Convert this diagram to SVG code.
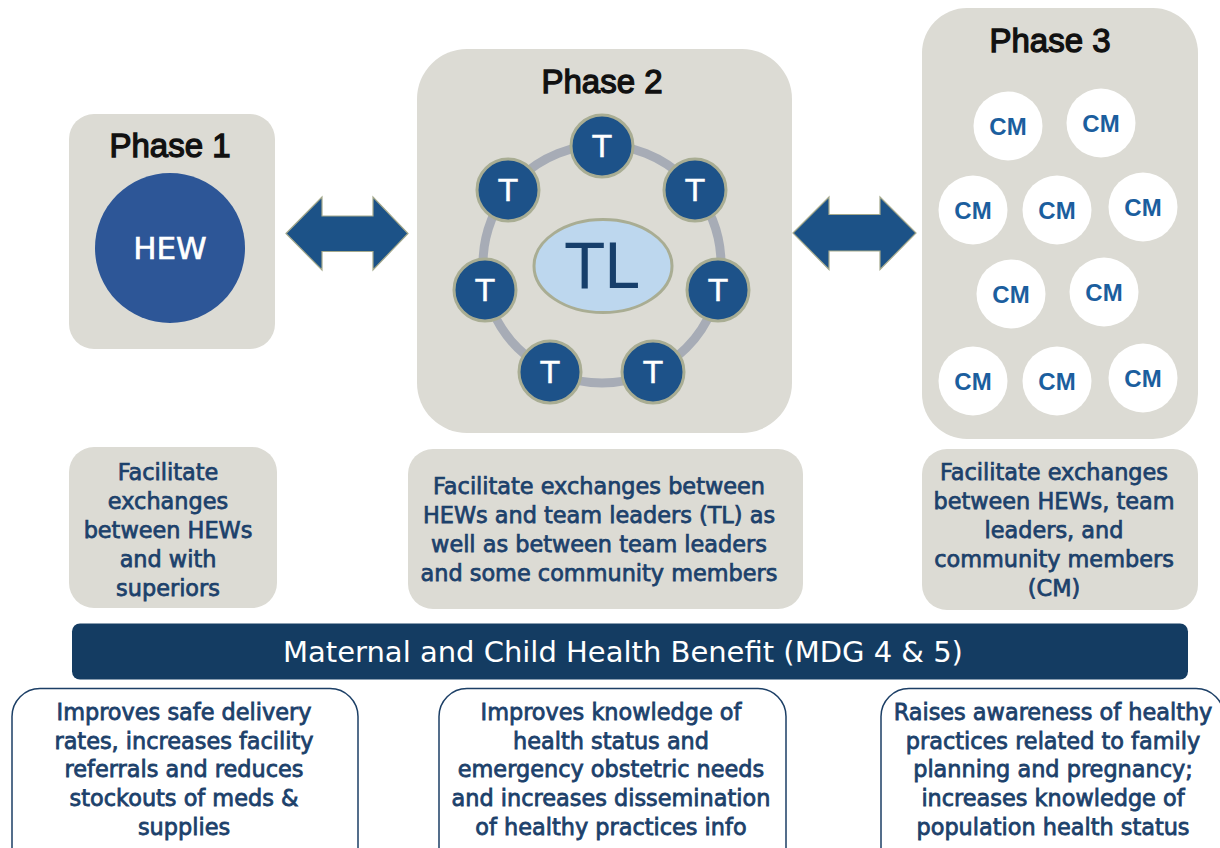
<svg xmlns="http://www.w3.org/2000/svg" width="1220" height="848" viewBox="0 0 1220 848">
<style>
.panel{fill:#DCDBD4}
.title{font-family:"Liberation Sans",Arial,sans-serif;font-size:33px;fill:#111;stroke:#111;stroke-width:1.3;text-anchor:middle}
.desc{font-family:"DejaVu Sans",Verdana,sans-serif;font-size:22.4px;fill:#1C416B;stroke:#1C416B;stroke-width:0.75;text-anchor:middle}
.bot{font-family:"DejaVu Sans",Verdana,sans-serif;font-size:22.4px;fill:#1C416B;stroke:#1C416B;stroke-width:0.8;text-anchor:middle}
.tnode{fill:#1D5289;stroke:#A9AD93;stroke-width:3}
.tlab{font-family:"DejaVu Sans",Verdana,sans-serif;font-size:31px;fill:#fff;stroke:#fff;stroke-width:0.4;text-anchor:middle}
.cm{fill:#fff}
.cmlab{font-family:"Liberation Sans",Arial,sans-serif;font-weight:bold;font-size:24px;fill:#1B5E9E;text-anchor:middle}
.arrow{fill:#1C5287;stroke:#A5A98C;stroke-width:1.2}
.outcome{fill:#fff;stroke:#1C3F66;stroke-width:1.5}
</style>

<g id="phase1">
<rect class="panel" x="69" y="114" width="206" height="235" rx="25"/>
<text class="title" x="170" y="157">Phase 1</text>
<circle cx="170" cy="248" r="75" fill="#2D5697"/>
<text x="170" y="259" font-family="DejaVu Sans, Verdana, sans-serif" font-size="31" fill="#fff" stroke="#fff" stroke-width="0.6" text-anchor="middle">HEW</text>
</g>

<g id="phase2">
<rect class="panel" x="417" y="49" width="375" height="384" rx="50"/>
<text class="title" x="602" y="93">Phase 2</text>
<circle cx="602" cy="264" r="119" fill="none" stroke="#A7ACB6" stroke-width="9"/>
<ellipse cx="603" cy="266" rx="69" ry="46.5" fill="#BDD7EE" stroke="#A9AD93" stroke-width="3"/>
<text x="602" y="288" font-family="DejaVu Sans, Verdana, sans-serif" font-size="62" fill="#173F6B" text-anchor="middle">TL</text>
<g id="t1"><circle class="tnode" cx="602" cy="146" r="31"/><text class="tlab" x="602" y="157">T</text></g>
<g id="t2"><circle class="tnode" cx="508" cy="190" r="31"/><text class="tlab" x="508" y="201">T</text></g>
<g id="t3"><circle class="tnode" cx="695" cy="190" r="31"/><text class="tlab" x="695" y="201">T</text></g>
<g id="t4"><circle class="tnode" cx="485" cy="290" r="31"/><text class="tlab" x="485" y="301">T</text></g>
<g id="t5"><circle class="tnode" cx="718" cy="290" r="31"/><text class="tlab" x="718" y="301">T</text></g>
<g id="t6"><circle class="tnode" cx="550" cy="372" r="31"/><text class="tlab" x="550" y="383">T</text></g>
<g id="t7"><circle class="tnode" cx="653" cy="372" r="31"/><text class="tlab" x="653" y="383">T</text></g>
</g>

<g id="phase3">
<rect class="panel" x="922" y="8" width="276" height="431" rx="45"/>
<text class="title" x="1050" y="52">Phase 3</text>
<g id="cm1"><circle class="cm" cx="1008" cy="126" r="34.5"/><text class="cmlab" x="1008" y="135">CM</text></g>
<g id="cm2"><circle class="cm" cx="1101" cy="123" r="34.5"/><text class="cmlab" x="1101" y="132">CM</text></g>
<g id="cm3"><circle class="cm" cx="973" cy="210" r="34.5"/><text class="cmlab" x="973" y="219">CM</text></g>
<g id="cm4"><circle class="cm" cx="1057" cy="210" r="34.5"/><text class="cmlab" x="1057" y="219">CM</text></g>
<g id="cm5"><circle class="cm" cx="1143" cy="207" r="34.5"/><text class="cmlab" x="1143" y="216">CM</text></g>
<g id="cm6"><circle class="cm" cx="1011" cy="294" r="34.5"/><text class="cmlab" x="1011" y="303">CM</text></g>
<g id="cm7"><circle class="cm" cx="1104" cy="292" r="34.5"/><text class="cmlab" x="1104" y="301">CM</text></g>
<g id="cm8"><circle class="cm" cx="973" cy="381" r="34.5"/><text class="cmlab" x="973" y="390">CM</text></g>
<g id="cm9"><circle class="cm" cx="1057" cy="381" r="34.5"/><text class="cmlab" x="1057" y="390">CM</text></g>
<g id="cm10"><circle class="cm" cx="1143" cy="378" r="34.5"/><text class="cmlab" x="1143" y="387">CM</text></g>
</g>

<g id="connectors">
<polygon class="arrow" points="286,233.5 322,197 322,216 373,216 373,197 408,233.5 373,270 373,251.5 322,251.5 322,270"/>
<polygon class="arrow" points="793,233 829,197 829,214.5 880,214.5 880,197 916,233 880,269.5 880,251 829,251 829,269.5"/>
</g>

<g id="desc1">
<rect class="panel" x="69" y="447" width="208" height="161" rx="25"/>
<text class="desc"><tspan x="168" y="479.5">Facilitate</tspan><tspan x="168" y="508.5">exchanges</tspan><tspan x="168" y="537.5">between HEWs</tspan><tspan x="168" y="566.5">and with</tspan><tspan x="168" y="595.5">superiors</tspan></text>
</g>

<g id="desc2">
<rect class="panel" x="408" y="449" width="395" height="160" rx="25"/>
<text class="desc"><tspan x="599" y="494">Facilitate exchanges between</tspan><tspan x="599" y="523">HEWs and team leaders (TL) as</tspan><tspan x="599" y="552">well as between team leaders</tspan><tspan x="599" y="580.5">and some community members</tspan></text>
</g>

<g id="desc3">
<rect class="panel" x="922" y="449" width="276" height="161" rx="25"/>
<text class="desc"><tspan x="1054" y="479.5">Facilitate exchanges</tspan><tspan x="1054" y="508.5">between HEWs, team</tspan><tspan x="1054" y="537.5">leaders, and</tspan><tspan x="1054" y="566.5">community members</tspan><tspan x="1054" y="596">(CM)</tspan></text>
</g>

<g id="banner">
<rect x="72" y="623.5" width="1116" height="56" rx="8" fill="#143C62"/>
<text x="623" y="662" font-family="DejaVu Sans, Verdana, sans-serif" font-size="29" fill="#fff" text-anchor="middle">Maternal and Child Health Benefit (MDG 4 &amp; 5)</text>
</g>

<g id="outcome1">
<rect class="outcome" x="12" y="688.5" width="346" height="190" rx="28"/>
<text class="bot"><tspan x="184" y="719.5">Improves safe delivery</tspan><tspan x="184" y="748.5">rates, increases facility</tspan><tspan x="184" y="777">referrals and reduces</tspan><tspan x="184" y="806">stockouts of meds &amp;</tspan><tspan x="184" y="835">supplies</tspan></text>
</g>

<g id="outcome2">
<rect class="outcome" x="439" y="688.5" width="347" height="190" rx="28"/>
<text class="bot"><tspan x="611" y="719.5">Improves knowledge of</tspan><tspan x="611" y="748.5">health status and</tspan><tspan x="611" y="777">emergency obstetric needs</tspan><tspan x="611" y="806">and increases dissemination</tspan><tspan x="611" y="835">of healthy practices info</tspan></text>
</g>

<g id="outcome3">
<rect class="outcome" x="881" y="688.5" width="343" height="190" rx="28"/>
<text class="bot"><tspan x="1053" y="719.5">Raises awareness of healthy</tspan><tspan x="1053" y="748.5">practices related to family</tspan><tspan x="1053" y="777">planning and pregnancy;</tspan><tspan x="1053" y="806">increases knowledge of</tspan><tspan x="1053" y="835">population health status</tspan></text>
</g>
</svg>
